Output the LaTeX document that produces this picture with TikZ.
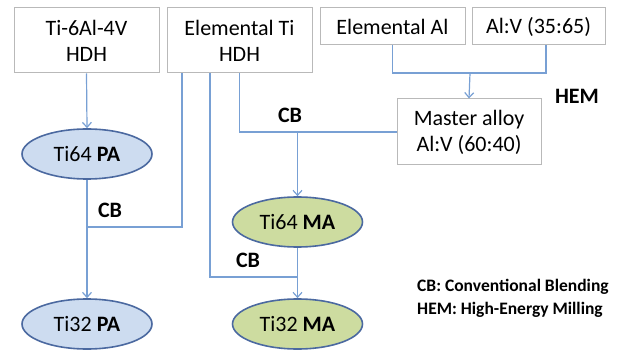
\documentclass[tikz,border=0pt]{standalone}
\usepackage{fontspec}
\setmainfont{Carlito}
\usetikzlibrary{arrows.meta,shapes.geometric}
\definecolor{linec}{RGB}{120,160,212}
\definecolor{boxc}{RGB}{185,185,185}
\definecolor{pafill}{RGB}{205,220,240}
\definecolor{mafill}{RGB}{205,220,160}
\definecolor{elb}{RGB}{75,105,160}
\tikzset{
  box/.style={draw=boxc, line width=1pt, fill=white, inner sep=0pt, align=center,
    font=\fontsize{22}{26}\selectfont},
  ell/.style={ellipse, draw=elb, line width=1.6pt, minimum width=130pt, minimum height=50pt,
    inner sep=0pt, font=\fontsize{22}{26}\selectfont},
  pa/.style={ell, fill=pafill},
  ma/.style={ell, fill=mafill},
  conn/.style={draw=linec, line width=1.2pt},
  arr/.style={conn, -{Straight Barb[length=5pt,width=9pt]}},
  lbl/.style={font=\fontsize{22}{26}\selectfont\bfseries, inner sep=0pt},
  leg/.style={font=\fontsize{17.5}{22}\selectfont\bfseries, inner sep=0pt, anchor=west}
}
\begin{document}
\begin{tikzpicture}[x=1pt,y=-1pt]
\useasboundingbox (0,0) rectangle (617,352);
\node[box, minimum width=145pt, minimum height=65pt] (b1) at (86.5,40.5) {Ti-6Al-4V\\HDH};
\node[box, minimum width=145pt, minimum height=65pt] (b2) at (239.5,40.5) {Elemental Ti\\HDH};
\node[box, minimum width=145pt, minimum height=37pt] (b3) at (392.5,26.5) {Elemental Al};
\node[box, minimum width=133pt, minimum height=37pt] (b4) at (538.5,26.5) {Al:V (35:65)};
\node[box, minimum width=144pt, minimum height=66pt] (m) at (469,132) {Master alloy\\Al:V (60:40)};
\node[pa] (pa64) at (87,154) {Ti64 \textbf{PA}};
\node[pa] (pa32) at (87,324) {Ti32 \textbf{PA}};
\node[ma] (ma64) at (297.5,222) {Ti64 \textbf{MA}};
\node[ma] (ma32) at (297.5,324) {Ti32 \textbf{MA}};
\coordinate (j) at (470,73);
\coordinate (c1) at (182,227);
\coordinate (c2) at (210,277);
% HEM branch
\draw[conn] (b3.south) |- ([xshift=7.5pt]b4.south |- j) -- ([xshift=7.5pt]b4.south);
\draw[arr] (j) -- (m.north);
% PA chain
\draw[arr] (b1.south) -- (pa64.north);
\draw[arr] (pa64.south) -- (pa32.north);
\draw[conn] (c1 |- b2.south) -- (c1) -- (c1 -| pa64.south);
% MA chain
\draw[conn] (b2.south) |- (m.west);
\draw[arr] (ma64.north |- m.west) -- (ma64.north);
\draw[arr] (ma64.south) -- (ma32.north);
\draw[conn] (c2 |- b2.south) -- (c2) -- (c2 -| ma32.north);
% labels
\node[lbl] (cb1) at (290,115) {CB};
\node[lbl] (cb2) at (110,210) {CB};
\node[lbl] (cb3) at (248,260) {CB};
\node[lbl] (hem) at (577,96) {HEM};
\node[leg] (l1) at (417,287) {CB: Conventional Blending};
\node[leg] (l2) at (417,310) {HEM: High-Energy Milling};
\end{tikzpicture}
\end{document}
